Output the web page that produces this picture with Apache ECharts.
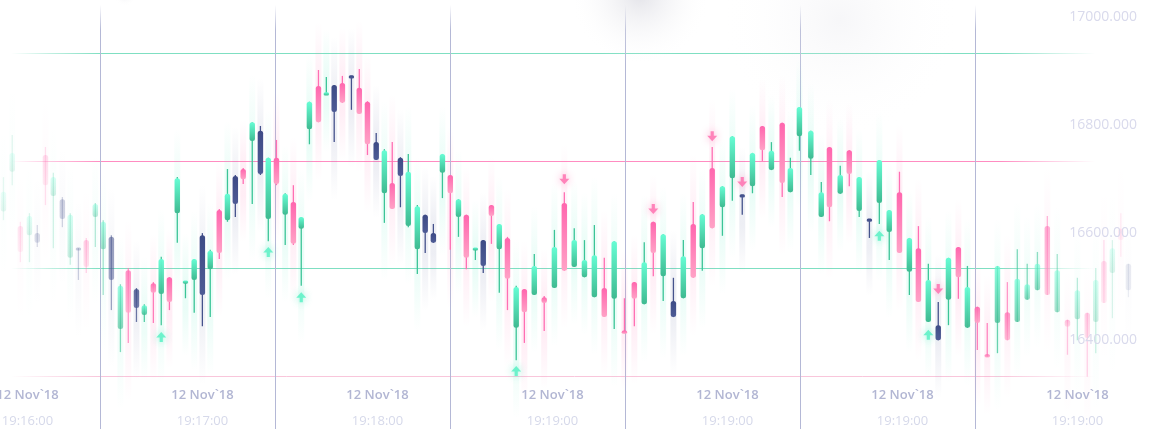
<!DOCTYPE html>
<html>
<head>
<meta charset="utf-8">
<script src="https://cdn.jsdelivr.net/npm/echarts@6/dist/echarts.min.js"></script>
<style>
html,body{margin:0;padding:0;background:#ffffff;}
#chart{width:1160px;height:429px;}
</style>
</head>
<body>
<div id="chart"></div>
<script>
// ---------- DATA ----------
// candle timestamps (seconds on the chart's time scale)
const candleTimes = [
 26.9, 29.9, 32.7, 35.8, 38.5, 41.3, 44.0, 47.1, 49.8, 52.6,
 55.3, 58.4, 61.1, 63.9, 67.0, 69.7, 72.5, 75.2, 78.3, 81.0,
 83.8, 86.5, 89.3, 92.3, 95.1, 97.8, 100.9, 103.7, 106.4, 109.1,
 112.2, 115.0, 117.7, 120.5, 123.5, 126.3, 129.0, 131.8, 134.9, 137.6,
 140.3, 143.1, 146.2, 148.9, 151.7, 154.7, 157.5, 160.2, 163.0, 165.7,
 168.8, 171.5, 174.3, 177.4, 180.1, 182.9, 185.6, 188.7, 191.4, 194.2,
 196.9, 199.7, 202.7, 205.5, 208.9, 212.3, 215.8, 219.2, 222.6, 226.1,
 229.5, 232.9, 236.3, 239.8, 243.2, 246.6, 249.7, 253.1, 256.6, 260.0,
 263.4, 266.5, 269.9, 273.4, 276.8, 280.2, 283.7, 287.1, 290.2, 293.9,
 296.7, 299.8, 303.7, 307.3, 310.1, 313.8, 316.9, 320.3, 323.8, 327.2,
 330.6, 334.1, 337.5, 340.6, 344.0, 347.4, 350.9, 354.3, 357.4, 360.8,
 364.2, 367.7, 371.1, 374.5, 377.9, 381.4, 384.8, 388.2, 391.7, 395.1,
 398.5, 401.4, 404.2, 407.1, 410.0, 412.6
];
const candleOpen = [
 16706,16780,16679,16662,16666,16811,16735,16729,16620,16638,
 16653,16696,16636,16659,16488,16597,16562,16514,16573,16553,
 16584,16703,16573,16579,16662,16599,16709,16690,16772,16785,
 16837,16856,16692,16806,16700,16724,16674,16859,16939,16923,
 16941,16945,16958,16936,16910,16835,16740,16759,16806,16679,
 16636,16700,16666,16778,16774,16696,16700,16635,16653,16718,
 16636,16657,16490,16562,16551,16547,16564,16722,16603,16584,
 16547,16564,16544,16484,16575,16534,16687,16586,16540,16545,
 16683,16638,16787,16714,16768,16737,16753,16865,16783,16871,
 16742,16846,16804,16696,16826,16739,16820,16707,16692,16722,
 16668,16742,16594,16638,16501,16495,16542,16640,16490,16529,
 16440,16499,16519,16501,16542,16560,16679,16519,16505,16506,
 16518,16501,16614,16592,16674,16609
];
const candleClose = [
 16743,16815,16631,16698,16648,16755,16770,16692,16700,16635,
 16603,16720,16687,16579,16568,16518,16527,16532,16555,16618,
 16538,16768,16577,16618,16551,16633,16629,16739,16720,16766,
 16872,16776,16806,16757,16739,16646,16696,16910,16872,16926,
 16891,16908,16954,16887,16831,16802,16820,16711,16772,16780,
 16716,16666,16648,16813,16740,16729,16620,16638,16605,16698,
 16683,16581,16566,16519,16605,16536,16640,16596,16653,16616,
 16625,16510,16651,16480,16544,16612,16629,16664,16510,16623,
 16583,16701,16675,16753,16846,16733,16815,16820,16819,16759,
 16787,16900,16856,16742,16714,16774,16776,16770,16688,16802,
 16709,16629,16657,16538,16579,16467,16620,16584,16566,16499,
 16436,16605,16467,16581,16571,16609,16551,16597,16492,16560,
 16471,16579,16536,16638,16653,16560
];
const candleLow = [
 16690,16755,16612,16612,16640,16718,16638,16677,16607,16579,
 16592,16640,16551,16523,16445,16462,16501,16501,16499,16495,
 16523,16648,16545,16518,16493,16510,16618,16687,16696,16757,
 16720,16774,16651,16755,16644,16644,16568,16831,16872,16923,
 16835,16908,16895,16887,16811,16802,16685,16711,16714,16677,
 16590,16629,16648,16731,16635,16659,16599,16616,16592,16646,
 16555,16523,16430,16462,16551,16484,16564,16596,16603,16584,
 16547,16510,16488,16480,16493,16534,16586,16540,16510,16545,
 16583,16596,16675,16661,16726,16700,16740,16800,16783,16733,
 16742,16819,16774,16696,16688,16739,16753,16696,16657,16683,
 16616,16629,16551,16538,16501,16467,16495,16544,16490,16449,
 16436,16443,16467,16501,16542,16560,16551,16519,16440,16467,
 16399,16443,16536,16508,16622,16547
];
const candleHigh = [
 16770,16848,16687,16703,16681,16826,16778,16733,16703,16638,
 16657,16722,16690,16662,16571,16601,16564,16534,16575,16622,
 16584,16770,16577,16618,16666,16635,16711,16785,16774,16787,
 16872,16865,16806,16839,16740,16755,16696,16910,16969,16956,
 16941,16958,16958,16971,16911,16852,16822,16835,16807,16813,
 16718,16700,16683,16813,16774,16729,16700,16638,16653,16718,
 16683,16659,16568,16562,16627,16549,16672,16742,16675,16653,
 16681,16620,16651,16545,16575,16649,16687,16664,16583,16653,
 16724,16701,16826,16753,16846,16737,16815,16865,16835,16871,
 16806,16900,16856,16761,16826,16791,16820,16770,16692,16802,
 16709,16780,16657,16679,16609,16538,16620,16640,16605,16529,
 16499,16605,16575,16636,16609,16631,16698,16627,16505,16583,
 16518,16601,16653,16653,16703,16609
];
// u = rising (mint), d = falling (pink), n = neutral (navy)
const candleKind = (
 'uudundunun' + 'duunudnudu' + 'duuunudund' + 'unududuudu' + 'ndnddnudnu' +
 'unnududund' + 'ududududuu' + 'ududdudunu' + 'duduunudud' + 'uuuududunu' +
 'ududunudud' + 'duduuududu' + 'dududn').split('');

// trade markers
const buyIndex  = [19, 32, 36, 62, 99, 104];
const buyPrice  = [16473, 16631, 16547, 16410, 16661, 16477];
const sellIndex = [67, 76, 82, 85, 105];
const sellPrice = [16766, 16711, 16846, 16761, 16562];

// axis tick labels
const dateLabels = ['12 Nov`18','12 Nov`18','12 Nov`18','12 Nov`18','12 Nov`18','12 Nov`18','12 Nov`18'];
const timeLabels = ['19:16:00','19:17:00','19:18:00','19:19:00','19:19:00','19:19:00','19:19:00'];
const priceMin = 16200, priceMax = 17200, priceStep = 200;
const timeMin = 0, timeMax = 420, timeStep = 60;

// ---------- STYLE ----------
const G = echarts.graphic;
const PAL = {
  u: {top:'#66fdd4', bot:'#3fba91', wick:'#3cc497', glow:'80,235,190'},
  d: {top:'#ff66ae', bot:'#ffa2c6', wick:'#ff6fb3', glow:'255,110,175'},
  n: {top:'#3e4b86', bot:'#4e5b95', wick:'#45528c', glow:'110,118,165'}
};
function interp(stops, x){
  if (x <= stops[0][0]) return stops[0][1];
  for (let i=1;i<stops.length;i++){
    if (x <= stops[i][0]){
      const a=stops[i-1], b=stops[i];
      return a[1] + (b[1]-a[1])*(x-a[0])/(b[0]-a[0]);
    }
  }
  return stops[stops.length-1][1];
}
const fadeStops = [[0,0.12],[90,0.3],[140,0.82],[170,1],[960,1],[990,0.8],[1010,0.68],[1040,0.55],[1060,0.42],[1090,0.28],[1130,0.1],[1160,0.05]];

function renderCandle(params, api){
  const t = api.value(0);
  const o = api.value(1), c = api.value(2), lo = api.value(3), hi = api.value(4);
  const pal = PAL[candleKind[params.dataIndex]];
  const pO = api.coord([t,o]), pC = api.coord([t,c]);
  const pL = api.coord([t,lo]), pH = api.coord([t,hi]);
  const x = pO[0];
  const op = interp(fadeStops, x);
  let top = Math.min(pO[1], pC[1]), bot = Math.max(pO[1], pC[1]);
  if (bot - top < 3.2){ const m=(top+bot)/2; top=m-1.6; bot=m+1.6; }
  const bw = 5.4;
  const gTop = pH[1]-48, gBot = pL[1]+58;
  return {
    type:'group',
    children:[
      {type:'rect', silent:true,
       shape:{x:x-3, y:gTop, width:6, height:gBot-gTop},
       style:{opacity:op, fill:new G.LinearGradient(0,0,0,1,[
          {offset:0,color:'rgba('+pal.glow+',0)'},
          {offset:0.38,color:'rgba('+pal.glow+',0.12)'},
          {offset:0.62,color:'rgba('+pal.glow+',0.12)'},
          {offset:1,color:'rgba('+pal.glow+',0)'}])}},
      {type:'rect', shape:{x:x-0.65, y:pH[1], width:1.3, height:Math.max(0.5,pL[1]-pH[1])},
       style:{fill:pal.wick, opacity:op}},
      {type:'rect', shape:{x:x-bw/2, y:top, width:bw, height:bot-top, r:2.5},
       style:{opacity:op, fill:new G.LinearGradient(0,0,0,1,[
          {offset:0,color:pal.top},{offset:1,color:pal.bot}])}}
    ]
  };
}

const candleData = candleTimes.map((t,i)=>[t, candleOpen[i], candleClose[i], candleLow[i], candleHigh[i]]);
const buyData = buyIndex.map((i,k)=>[candleTimes[i], buyPrice[k]]);
const sellData = sellIndex.map((i,k)=>[candleTimes[i], sellPrice[k]]);

function white(stops){ return stops.map(s=>({offset:s[0], color:'rgba(255,255,255,'+s[1]+')'})); }
function gridOpt(bottom){ return {left:-75, right:10, top:-54.4, bottom:bottom, containLabel:false, outerBoundsMode:'none'}; }

const chart = echarts.init(document.getElementById('chart'), null, {renderer:'canvas'});
chart.setOption({
  animation:false,
  backgroundColor:'#ffffff',
  graphic:[
    // edge fades for the grid lines (under the candles)
    {type:'rect', z:1, silent:true, shape:{x:0, y:0, width:112, height:429},
     style:{fill:new G.LinearGradient(0,0,1,0, white([[0,1],[0.1,1],[0.45,0.5],[0.9,0],[1,0]]))}},
    {type:'rect', z:1, silent:true, shape:{x:985, y:0, width:175, height:429},
     style:{fill:new G.LinearGradient(0,0,1,0, white([[0,0],[0.09,0],[0.37,0.55],[0.63,1],[1,1]]))}},
    {type:'rect', z:1, silent:true, shape:{x:0, y:0, width:1160, height:40},
     style:{fill:new G.LinearGradient(0,0,0,1, white([[0,1],[0.12,1],[0.75,0],[1,0]]))}},
    // soft grey haze at the top
    {type:'ellipse', z:1.5, silent:true, shape:{cx:840, cy:20, rx:400, ry:120},
     style:{fill:new G.RadialGradient(0.5,0.5,0.5,[{offset:0,color:'rgba(225,225,232,0.28)'},{offset:1,color:'rgba(255,255,255,0)'}])}},
    {type:'ellipse', z:1.5, silent:true, shape:{cx:640, cy:-5, rx:170, ry:70},
     style:{fill:new G.RadialGradient(0.5,0.5,0.5,[{offset:0,color:'rgba(205,205,215,0.55)'},{offset:1,color:'rgba(255,255,255,0)'}])}},
    {type:'ellipse', z:1.5, silent:true, shape:{cx:125, cy:-6, rx:45, ry:12},
     style:{fill:new G.RadialGradient(0.5,0.5,0.5,[{offset:0,color:'rgba(210,210,220,0.45)'},{offset:1,color:'rgba(255,255,255,0)'}])}}
  ],
  grid:[ gridOpt(-55), gridOpt(268.04), gridOpt(52.68) ],
  xAxis:[
    {gridIndex:0, type:'value', position:'bottom', min:timeMin, max:timeMax, interval:timeStep, z:0,
     axisLine:{show:false}, axisTick:{show:false}, axisLabel:{show:false},
     splitLine:{show:true, showMinLine:false, showMaxLine:false, lineStyle:{width:1, color:'#b4b8d6'}}},
    {gridIndex:0, type:'value', position:'bottom', min:timeMin, max:timeMax, interval:timeStep, z:10,
     offset:-107.7, axisLine:{show:false}, axisTick:{show:false}, splitLine:{show:false},
     axisLabel:{
       margin:6, padding:[0,145,0,0], showMinLabel:true, showMaxLabel:true,
       formatter:function(v){
         const i = Math.round(v/timeStep) - 1;
         if (i < 0 || i >= timeLabels.length) return '';
         return '{d|' + dateLabels[i] + '}\n{t|' + timeLabels[i] + '}';
       },
       rich:{
         d:{color:'#b2b6d3', fontSize:13, fontWeight:600, fontFamily:'Open Sans', lineHeight:26, align:'center'},
         t:{color:'#d6d9ea', fontSize:13, fontFamily:'Open Sans', lineHeight:26, align:'center'}
       }}},
    {gridIndex:1, type:'value', min:timeMin, max:timeMax, show:false},
    {gridIndex:2, type:'value', min:timeMin, max:timeMax, show:false}
  ],
  yAxis:[
    {gridIndex:0, type:'value', position:'right', min:priceMin, max:priceMax, interval:priceStep, z:10,
     axisLine:{show:false}, axisTick:{show:false}, splitLine:{show:false},
     axisLabel:{inside:true, margin:13, verticalAlign:'bottom', padding:[0,0,29,0],
       color:'#d9daec', fontSize:14, fontFamily:'Open Sans', fontWeight:500,
       formatter:function(v){ return v.toFixed(3); }}},
    {gridIndex:0, type:'value', position:'right', min:priceMin, max:priceMax, interval:400, z:0,
     axisLine:{show:false}, axisTick:{show:false}, axisLabel:{show:false},
     splitLine:{show:true, lineStyle:{width:1.2, color:'#7fdfc2'}}},
    {gridIndex:1, type:'value', position:'right', min:16800, max:priceMax, interval:400, z:0,
     axisLine:{show:false}, axisTick:{show:false}, axisLabel:{show:false},
     splitLine:{show:true, lineStyle:{width:1.2, color:'#ff8cc1'}}},
    {gridIndex:2, type:'value', position:'right', min:16400, max:priceMax, interval:800, z:0,
     axisLine:{show:false}, axisTick:{show:false}, axisLabel:{show:false},
     splitLine:{show:true, lineStyle:{width:1, color:'#f9c6db'}}}
  ],
  series:[
    {type:'custom', renderItem:renderCandle, data:candleData, clip:false, z:2,
     xAxisIndex:0, yAxisIndex:0, encode:{x:0, y:[1,2,3,4]}},
    {type:'scatter', data:buyData, z:5, xAxisIndex:0, yAxisIndex:0,
     symbol:'path://M5,0 L10,5.5 L6.6,5.5 L6.6,10 L3.4,10 L3.4,5.5 L0,5.5 Z',
     symbolSize:[10,10], itemStyle:{color:'#52f0c2', shadowBlur:8, shadowColor:'rgba(70,230,185,0.8)'}},
    {type:'scatter', data:sellData, z:5, xAxisIndex:0, yAxisIndex:0,
     symbol:'path://M3.4,0 L6.6,0 L6.6,4.5 L10,4.5 L5,10 L0,4.5 L3.4,4.5 Z',
     symbolSize:[10,10], itemStyle:{color:'#ff6cad', shadowBlur:8, shadowColor:'rgba(255,110,175,0.8)'}}
  ]
});
</script>
</body>
</html>
